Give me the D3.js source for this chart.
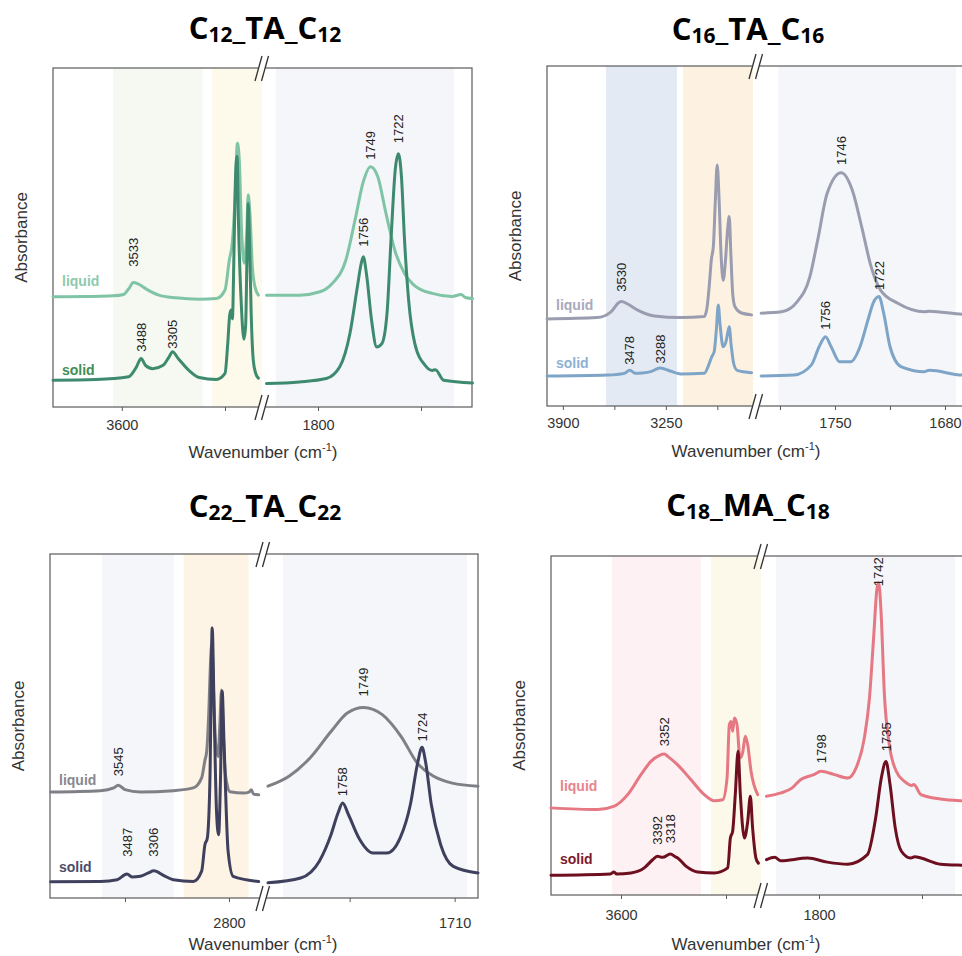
<!DOCTYPE html>
<html>
<head>
<meta charset="utf-8">
<script src="https://cdn.jsdelivr.net/npm/d3@7"></script>
<style>
  body { margin: 0; background: #fff; }
</style>
</head>
<body>
<svg id="fig" width="962" height="956" font-family="Liberation Sans, Arial, sans-serif"></svg>
<script>
// ---- FTIR spectra: [wavenumber (cm-1), absorbance (a.u., 0-100 of frame)] ----
// OH/CH region (high wavenumber) and carbonyl region (low wavenumber)

// C12_TA_C12
const c12LiquidOH = [[4000,32.5],[3800,32.6],[3650,32.8],[3590,33.2],[3558,35.0],[3533,36.7],[3505,36.3],[3455,34.7],[3385,33.0],[3285,32.2],[3150,31.8],[3050,32.0],[3000,34.5],[2975,43.3],[2958,48.3],[2942,61.1],[2928,77.8],[2917,72.9],[2903,51.2],[2888,42.4],[2874,51.2],[2865,62.6],[2855,57.1],[2841,41.4],[2826,35.5],[2806,33.0]];
const c12SolidOH = [[4000,7.9],[3750,8.1],[3560,8.9],[3515,11.8],[3488,14.3],[3462,12.3],[3420,11.3],[3360,12.3],[3325,14.8],[3305,16.3],[3272,14.3],[3210,10.8],[3150,8.7],[3050,8.1],[3000,9.9],[2985,18],[2973,27],[2965,28.6],[2957,26],[2948,45],[2940,66],[2930,74],[2922,55],[2905,30],[2890,20],[2880,24],[2872,45],[2865,60],[2858,50],[2848,28],[2836,14],[2822,10],[2806,8.5]];
const c12LiquidCO = [[1850,33.0],[1818,33.0],[1798,34.0],[1786,36.5],[1773,43.3],[1764,55.2],[1756,66.5],[1749,70.9],[1742,68.0],[1734,57.1],[1725,45.8],[1716,39.4],[1705,35.5],[1689,33.5],[1670,32.6],[1661,33.2],[1657,32.3],[1650,32.0]];
const c12SolidCO = [[1850,6.9],[1818,7.4],[1792,8.4],[1779,11.8],[1769,21.7],[1762,35],[1758,42.4],[1756,44.3],[1753,39.4],[1748,25.6],[1743,17.7],[1738,18.7],[1733,27.6],[1729,50],[1725,70],[1722,74.7],[1719,68],[1716,49.3],[1712,31.5],[1706,18.7],[1696,12.3],[1689,10.8],[1686,11.0],[1678,7.9],[1650,7.1]];
const c12Peaks = [[3533,41.4],[3488,16.3],[3305,17.2],[1756,47.3],[1749,72.9],[1722,77.8]];
const c12Bands = [[3650,3130],[3075,2783],[1841,1668]];
const c12TicksOH = [3600,3000], c12LabelsOH = [3600];
const c12TicksCO = [1800,1700], c12LabelsCO = [1800];

// C16_TA_C16
const c16LiquidOH = [[4000,25.6],[3685,26.0],[3596,27.7],[3545,30.5],[3530,30.7],[3491,30.0],[3428,28.2],[3323,26.5],[3155,26.0],[3008,26.3],[2990,29],[2975,36],[2963,43],[2950,47],[2938,60],[2926,70.9],[2915,62],[2902,45],[2888,37],[2875,42],[2860,52],[2850,55.7],[2840,45],[2828,33],[2814,29.2],[2780,27.5],[2709,26.8]];
const c16SolidOH = [[4000,8.8],[3617,9.1],[3512,9.6],[3478,10.5],[3440,9.6],[3400,9.7],[3340,10.2],[3288,11.2],[3240,10.6],[3155,9.4],[3008,9.6],[2980,12],[2960,14.5],[2945,16],[2932,22],[2919,29.7],[2908,24],[2888,17.4],[2870,19],[2850,23.3],[2838,18],[2822,12.5],[2800,10.5],[2709,9.8]];
const c16LiquidCO = [[1797,27.3],[1784,27.7],[1774,30.7],[1766,38.0],[1761,48.8],[1755,62.5],[1746,68.6],[1739,63.5],[1733,52.7],[1727,41.0],[1721,34.1],[1710,30.2],[1693,27.7],[1690,27.9],[1669,27.0],[1650,26.8]];
const c16SolidCO = [[1797,8.8],[1776,9.1],[1765,12.1],[1760,17.5],[1756,20.4],[1752.5,17.5],[1747,13.0],[1740,13.0],[1734,17.5],[1729,25.3],[1725.5,30.5],[1722,32.2],[1719,27.3],[1715,17.5],[1708,11.6],[1693,10.1],[1690,10.5],[1669,9.1],[1650,9.0]];
const c16Peaks = [[3530,33.6],[3478,12.1],[3288,12.5],[1756,22.4],[1746,70.9],[1722,34.1]];
const c16Bands = [[3628,3180],[3142,2700],[1786,1673]];
const c16TicksOH = [3900,3575,3250,2925], c16LabelsOH = [3900,3250];
const c16TicksCO = [1785,1750,1715,1680], c16LabelsCO = [1750,1680];

// C22_TA_C22
const c22LiquidOH = [[4000,30.8],[3665,31.2],[3576,32.0],[3545,32.8],[3500,31.5],[3397,30.8],[3174,31.2],[3040,32.0],[2984,34.9],[2962,40],[2950,42.6],[2935,55],[2925,68],[2915,74],[2905,62],[2890,45],[2873,41.1],[2862,50],[2850,60.5],[2840,50],[2828,38],[2810,32.5],[2794,30.9],[2700,30.5],[2665,30.8],[2650,31.5],[2635,30.2],[2600,30.0]];
const c22SolidOH = [[4000,4.7],[3665,4.8],[3553,5.3],[3487,7.0],[3453,6.1],[3397,6.3],[3342,7.3],[3306,7.9],[3241,6.6],[3174,5.3],[3040,4.8],[2984,7.8],[2962,15.5],[2946,17.4],[2928,34.9],[2913,78.5],[2900,54.3],[2884,25.2],[2870,18.4],[2857,34.9],[2846,60.1],[2833,44.6],[2806,13.6],[2772,6.3],[2600,4.8]];
const c22LiquidCO = [[1790,32.5],[1781,35.4],[1772,40.7],[1763,48.4],[1756,53.8],[1749,55.4],[1741,53.3],[1733,47.0],[1726,39.2],[1719,35.4],[1711,33.4],[1700,32.5]];
const c22SolidCO = [[1790,4.4],[1776,5.8],[1768,10.7],[1763,18.4],[1760,24.7],[1758,27.6],[1755.5,24.2],[1751,17.4],[1745,13.1],[1739,13.1],[1733.4,17.4],[1729,27.1],[1726,38.8],[1724,43.8],[1722.5,39.7],[1720,27.1],[1716,15.5],[1710.6,9.2],[1700,7.3]];
const c22Peaks = [[3545,35.4],[3487,12.0],[3306,12.0],[1758,29.6],[1749,58.6],[1724,45.5]];
const c22Bands = [[3655,3172],[3105,2668],[1783.6,1704.7]];
const c22TicksOH = [3500,2800], c22LabelsOH = [2800];
const c22TicksCO = [1755,1710], c22LabelsCO = [1710];

// C18_MA_C18
const c18LiquidOH = [[4000,25.7],[3733,25.2],[3638,26.2],[3562,29.6],[3486,35.5],[3429,39.4],[3380,41.2],[3352,41.6],[3333,40.9],[3276,38.4],[3200,34.0],[3124,29.6],[3067,27.8],[3019,28.1],[2994,34.5],[2981,50.2],[2971,51.2],[2962,48.3],[2952,52.2],[2937,50.2],[2920,40.4],[2905,41.9],[2890,46.8],[2876,44.3],[2857,36.5],[2819,29.6]];
const c18SolidOH = [[4000,5.8],[3660,6.2],[3640,6.8],[3625,6.2],[3543,6.5],[3467,8.0],[3419,10.4],[3392,11.4],[3362,11.1],[3318,12.1],[3290,11.3],[3276,10.9],[3229,8.5],[3162,6.8],[3067,6.5],[2990,8.0],[2975,16.8],[2962,18.8],[2947,29.6],[2931,42.4],[2918,29.6],[2895,16.8],[2876,21.7],[2861,29.1],[2848,19.8],[2829,10.9],[2815,9.4]];
const c18LiquidCO = [[1851,29.1],[1837,30.1],[1826,31.6],[1818,34.0],[1805,35.5],[1798,36.5],[1785,35.5],[1772,34.5],[1764,37.5],[1756,46.3],[1751,58.1],[1747,75.8],[1743.6,90.6],[1742,92.0],[1739.8,83.7],[1736.5,59.1],[1731.7,44.3],[1725,36.5],[1717,33.5],[1710,32.3],[1708,32.6],[1701,29.6],[1682,28.3],[1661,27.8],[1650,27.7]];
const c18SolidCO = [[1851,10.4],[1843,11.1],[1837,10.1],[1811,10.9],[1792,9.7],[1772,9.1],[1753,11.9],[1745,22.7],[1739.5,34.5],[1735,39.4],[1731,32.5],[1726,19.8],[1720,12.9],[1711,10.9],[1707,11.3],[1701,10.9],[1682,9.1],[1661,8.8],[1650,8.7]];
const c18Peaks = [[3392,14.8],[3318,15.3],[3352,43.9],[1798,38.9],[1742,91.1],[1735,42.4]];
const c18Bands = [[3651,3143],[3086,2783],[1841.7,1668]];
const c18TicksOH = [3600,3000], c18LabelsOH = [3600];
const c18TicksCO = [1800,1700], c18LabelsCO = [1800];

// ---- panel layout ----
const panels = [
  { title: ["C","12","_TA_C","12"], cx: 265, ty: 39,
    frame: {x0: 53, x1: 472, y0: 68, y1: 407}, brk: 262,
    oh: {domain: [4000, 2800], range: [53, 259.4]}, co: {domain: [1850, 1650], range: [266.5, 472.5]},
    tickY: 23, axisTitleY: 51,
    liquid: [c12LiquidOH, c12LiquidCO], solid: [c12SolidOH, c12SolidCO], peaks: c12Peaks, bands: c12Bands,
    ticks: [c12TicksOH, c12LabelsOH, c12TicksCO, c12LabelsCO],
    colors: {liquid: "#80c4a6", solid: "#3d8a6f", liquidText: "#8dcaae", solidText: "#3f8f55",
             bands: ["#f5f9f2", "#fdf9eb", "#f4f6f9"]},
    legend: {liquid: 286, solid: 375} },
  { title: ["C","16","_TA_C","16"], cx: 748, ty: 40,
    frame: {x0: 547, x1: 990, y0: 66, y1: 406}, brk: 756,
    oh: {domain: [4000, 2700], range: [547, 753]}, co: {domain: [1800, 1650], range: [756.4, 992.1]},
    tickY: 22, axisTitleY: 51,
    liquid: [c16LiquidOH, c16LiquidCO], solid: [c16SolidOH, c16SolidCO], peaks: c16Peaks, bands: c16Bands,
    ticks: [c16TicksOH, c16LabelsOH, c16TicksCO, c16LabelsCO],
    colors: {liquid: "#9a9cb0", solid: "#7ea5c7", liquidText: "#a8aabd", solidText: "#8db1d3",
             bands: ["#e3eaf3", "#fdf2e1", "#f4f6f9"]},
    legend: {liquid: 310, solid: 368} },
  { title: ["C","22","_TA_C","22"], cx: 265, ty: 517,
    frame: {x0: 50, x1: 478, y0: 554, y1: 898}, brk: 263,
    oh: {domain: [4000, 2600], range: [50.7, 258.7]}, co: {domain: [1790, 1700], range: [268, 478]},
    tickY: 30, axisTitleY: 52,
    liquid: [c22LiquidOH, c22LiquidCO], solid: [c22SolidOH, c22SolidCO], peaks: c22Peaks, bands: c22Bands,
    ticks: [c22TicksOH, c22LabelsOH, c22TicksCO, c22LabelsCO],
    colors: {liquid: "#7f7f86", solid: "#3e405d", liquidText: "#88888f", solidText: "#4b4d69",
             bands: ["#f4f6f9", "#fdf4e5", "#f4f6f9"]},
    legend: {liquid: 785, solid: 872} },
  { title: ["C","18","_MA_C","18"], cx: 748, ty: 516,
    frame: {x0: 551, x1: 990, y0: 556, y1: 895}, brk: 761,
    oh: {domain: [4000, 2800], range: [551, 761]}, co: {domain: [1850, 1650], range: [767.5, 973.5]},
    tickY: 25, axisTitleY: 55,
    liquid: [c18LiquidOH, c18LiquidCO], solid: [c18SolidOH, c18SolidCO], peaks: c18Peaks, bands: c18Bands,
    ticks: [c18TicksOH, c18LabelsOH, c18TicksCO, c18LabelsCO],
    colors: {liquid: "#e57882", solid: "#6d0f1f", liquidText: "#e8848d", solidText: "#7d1a2a",
             bands: ["#fdf1f3", "#fcf9eb", "#f4f6f9"]},
    legend: {liquid: 791, solid: 864} }
];

const svg = d3.select("#fig");
svg.append("rect").attr("width", 962).attr("height", 956).attr("fill", "#fff");

panels.forEach(p => {
  const g = svg.append("g");
  const f = p.frame;
  const xOH = d3.scaleLinear().domain(p.oh.domain).range(p.oh.range);
  const xCO = d3.scaleLinear().domain(p.co.domain).range(p.co.range);
  const y = d3.scaleLinear().domain([0, 100]).range([f.y1, f.y0]);
  const xOf = wn => wn > 2500 ? xOH(wn) : xCO(wn);

  // shaded spectral regions
  p.bands.forEach((b, i) => {
    const lo = Math.max(xOf(b[0]), f.x0), hi = Math.min(xOf(b[1]), i === 1 ? p.brk : f.x1);
    g.append("rect").attr("x", lo).attr("y", f.y0).attr("width", hi - lo).attr("height", f.y1 - f.y0)
      .attr("fill", p.colors.bands[i]);
  });

  // frame
  g.append("rect").attr("x", f.x0).attr("y", f.y0).attr("width", f.x1 - f.x0).attr("height", f.y1 - f.y0)
    .attr("fill", "none").attr("stroke", "#5a5a5a").attr("stroke-width", 1.2);

  // spectra
  const mkLine = sc => d3.line().x(d => sc(d[0])).y(d => y(d[1])).curve(d3.curveMonotoneX);
  [["liquid", p.liquid], ["solid", p.solid]].forEach(([k, segs]) => {
    [[segs[0], xOH], [segs[1], xCO]].forEach(([seg, sc]) => {
      g.append("path").datum(seg).attr("d", mkLine(sc)).attr("fill", "none")
        .attr("stroke", p.colors[k]).attr("stroke-width", 3).attr("stroke-linejoin", "round")
        .attr("stroke-linecap", "round");
    });
  });

  // peak labels
  p.peaks.forEach(([wn, lvl]) => {
    g.append("text").attr("transform", `translate(${xOf(wn)},${y(lvl)}) rotate(-90)`)
      .attr("dy", "0.36em").attr("font-size", 13).attr("fill", "#222").text(wn);
  });

  // legend labels
  g.append("text").attr("x", f.x0 + 9).attr("y", p.legend.liquid).attr("font-size", 14)
    .attr("font-weight", "bold").attr("fill", p.colors.liquidText).text("liquid");
  g.append("text").attr("x", f.x0 + 9).attr("y", p.legend.solid).attr("font-size", 14)
    .attr("font-weight", "bold").attr("fill", p.colors.solidText).text("solid");

  // bottom axes (ticks + labels)
  const [tOH, lOH, tCO, lCO] = p.ticks;
  [[xOH, tOH, lOH], [xCO, tCO, lCO]].forEach(([sc, tv, lv]) => {
    const ax = g.append("g").attr("transform", `translate(0,${f.y1})`)
      .call(d3.axisBottom(sc).tickValues(tv).tickSize(4).tickFormat(d => lv.includes(d) ? d : ""));
    ax.attr("font-family", null).attr("font-size", null);
    ax.select(".domain").remove();
    ax.selectAll("line").attr("stroke", "#5a5a5a");
    ax.selectAll("text").attr("y", p.tickY).attr("dy", 0).attr("font-size", 14.5).attr("fill", "#333");
  });

  // axis break marks
  [f.y0, f.y1].forEach(yy => {
    g.append("rect").attr("x", p.brk - 3.5).attr("y", yy - 2).attr("width", 7).attr("height", 4).attr("fill", "#fff");
    [-3.5, 3].forEach(dx => {
      g.append("line").attr("x1", p.brk + dx - 3.5).attr("y1", yy + 13)
        .attr("x2", p.brk + dx + 3.5).attr("y2", yy - 12)
        .attr("stroke", "#333").attr("stroke-width", 1.3);
    });
  });

  // axis titles
  g.append("text").attr("transform", `translate(${f.x0 - 32},${(f.y0 + f.y1) / 2}) rotate(-90)`)
    .attr("text-anchor", "middle").attr("dy", "0.35em").attr("font-size", 17).attr("fill", "#333").text("Absorbance");
  const wt = g.append("text").attr("x", p.cx - 2).attr("y", f.y1 + p.axisTitleY).attr("text-anchor", "middle")
    .attr("font-size", 17).attr("fill", "#333");
  wt.append("tspan").text("Wavenumber (cm");
  wt.append("tspan").attr("font-size", 11).attr("dy", -7).text("-1");
  wt.append("tspan").attr("dy", 7).text(")");

  // panel title with subscripts
  const tt = g.append("text").attr("x", p.cx).attr("y", p.ty).attr("text-anchor", "middle")
    .style("font-family", "'Open Sans', 'Noto Sans', sans-serif").attr("font-weight", 700)
    .attr("font-size", 31).attr("fill", "#000");
  tt.append("tspan").text(p.title[0]);
  tt.append("tspan").attr("font-size", 21).attr("dy", 3).text(p.title[1]);
  tt.append("tspan").attr("dy", -3).text(p.title[2]);
  tt.append("tspan").attr("font-size", 21).attr("dy", 3).text(p.title[3]);
});
</script>
</body>
</html>
